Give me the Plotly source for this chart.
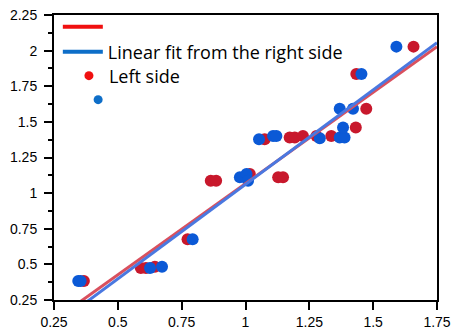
import plotly.graph_objects as go
import numpy as np

# ---- data ----
left_x = [0.367, 0.590, 0.610, 0.645, 0.773, 0.864, 0.885, 1.017, 1.128, 1.147,
          1.075, 1.173, 1.193, 1.225, 1.278, 1.336, 1.432, 1.473, 1.434, 1.658]
left_y = [0.383, 0.475, 0.475, 0.484, 0.676, 1.087, 1.087, 1.134, 1.111, 1.111,
          1.378, 1.390, 1.390, 1.401, 1.401, 1.401, 1.461, 1.592, 1.836, 2.028]

right_x = [0.345, 0.354, 0.626, 0.673, 0.793, 0.978, 1.004, 1.010, 1.053, 1.108,
           1.121, 1.291, 1.369, 1.388, 1.382, 1.369, 1.421, 1.454, 1.591]
right_y = [0.383, 0.383, 0.475, 0.484, 0.676, 1.111, 1.134, 1.087, 1.378, 1.401,
           1.401, 1.385, 1.390, 1.390, 1.461, 1.592, 1.592, 1.836, 2.028]

# linear fits (slope, intercept)
left_fit = (1.281, -0.2137)
right_fit = (1.326, -0.2645)
fit_x = [0.25, 1.75]

tick_vals = [0.25, 0.5, 0.75, 1, 1.25, 1.5, 1.75]
x_tick_text = ["0.25", "0.5", "0.75", "1", "1.25", "1.5", "1.75"]
y_tick_vals = [0.25, 0.5, 0.75, 1, 1.25, 1.5, 1.75, 2, 2.25]
y_tick_text = ["0.25", "0.5", "0.75", "1", "1.25", "1.5", "1.75", "2", "2.25"]
y_minor_vals = [0.375, 0.625, 0.875, 1.125, 1.375, 1.625, 1.875, 2.125]

legend_names = [" ", "Linear fit from the right side", "Left side", " "]

RED_DOT = "#c8182c"
BLUE_DOT = "#0b59d6"
RED_LINE = "#d9505e"
BLUE_LINE = "#4a78e0"

fig = go.Figure()

# data traces
fig.add_trace(go.Scatter(x=left_x, y=left_y, mode="markers",
                         marker=dict(color=RED_DOT, size=12, line=dict(width=0)),
                         showlegend=False))
fig.add_trace(go.Scatter(x=right_x, y=right_y, mode="markers",
                         marker=dict(color=BLUE_DOT, size=12, line=dict(width=0)),
                         showlegend=False))
fx = np.array(fit_x)
fig.add_trace(go.Scatter(x=fx, y=left_fit[0] * fx + left_fit[1], mode="lines",
                         line=dict(color=RED_LINE, width=3), showlegend=False))
fig.add_trace(go.Scatter(x=fx, y=right_fit[0] * fx + right_fit[1], mode="lines",
                         line=dict(color=BLUE_LINE, width=3), showlegend=False))

# legend-only entries, one legend box per row
fig.add_trace(go.Scatter(x=[None], y=[None], mode="lines", name=legend_names[0],
                         line=dict(color="#f01010", width=4), legend="legend"))
fig.add_trace(go.Scatter(x=[None], y=[None], mode="lines", name=legend_names[1],
                         line=dict(color="#0e6ec8", width=4), legend="legend2"))
fig.add_trace(go.Scatter(x=[None], y=[None], mode="markers", name=legend_names[2],
                         marker=dict(color="#f01010", size=9), legend="legend3"))
fig.add_trace(go.Scatter(x=[None], y=[None], mode="markers", name=legend_names[3],
                         marker=dict(color="#0e6ec8", size=9), legend="legend4"))

axis_common = dict(showline=True, linecolor="black", linewidth=2, mirror=True,
                   ticks="outside", tickcolor="black", tickwidth=1.5,
                   showgrid=False, zeroline=False, automargin=False,
                   ticklabeloverflow="allow",
                   tickfont=dict(family="Liberation Sans, Arial", size=14, color="black"))

fig.update_xaxes(range=[0.25, 1.75], tickvals=tick_vals, ticktext=x_tick_text,
                 ticklen=8, **axis_common)
fig.update_yaxes(range=[0.25, 2.25], tickvals=y_tick_vals, ticktext=y_tick_text,
                 ticklen=8, ticklabelstandoff=4,
                 minor=dict(tickvals=y_minor_vals,
                            ticklen=4, ticks="outside", tickcolor="black", tickwidth=1.5),
                 **axis_common)

leg_font = dict(family="Open Sans, sans-serif", size=18, color="black")
leg_common = dict(xanchor="left", yanchor="middle", bgcolor="rgba(0,0,0,0)",
                  borderwidth=0, font=leg_font)

fig.update_layout(
    width=453, height=329,
    margin=dict(l=54, r=16, t=15, b=29, autoexpand=False),
    plot_bgcolor="white", paper_bgcolor="white",
    legend=dict(x=0.01, y=0.958, itemwidth=40, **leg_common),
    legend2=dict(x=0.01, y=0.870, itemwidth=40, **leg_common),
    legend3=dict(x=0.039, y=0.786, itemwidth=30, **leg_common),
    legend4=dict(x=0.063, y=0.702, itemwidth=30, **leg_common),
)

# remove the browser's default 8px body margin so the figure fills the window
fig.write_html("out.html", config={"displayModeBar": False},
               post_script="document.body.style.margin='0px';")
